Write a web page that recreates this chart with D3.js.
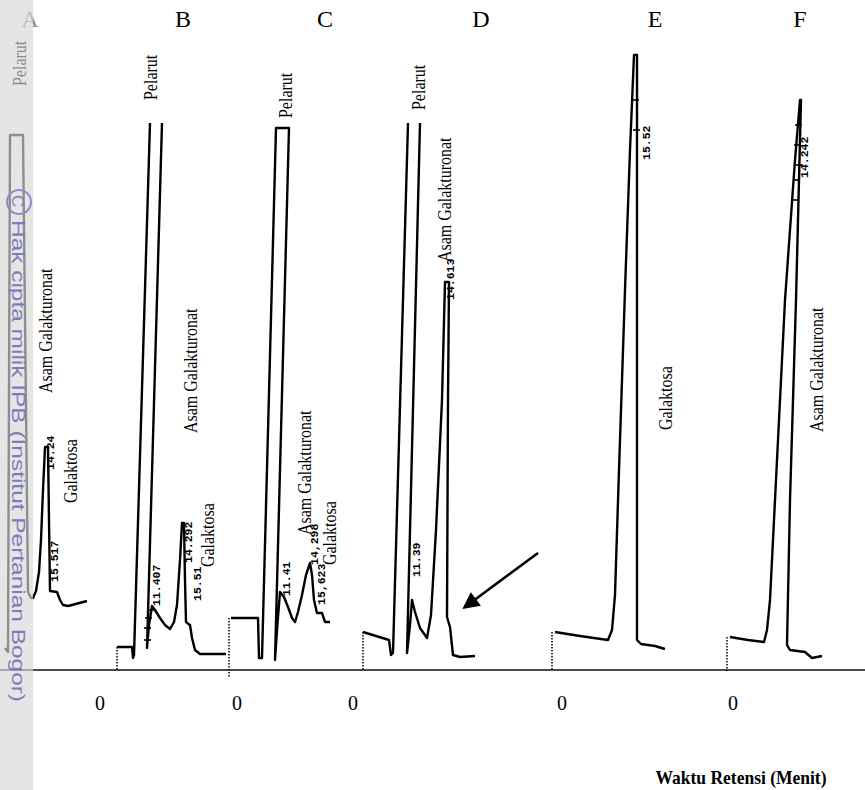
<!DOCTYPE html>
<html><head><meta charset="utf-8">
<script src="https://cdn.jsdelivr.net/npm/d3@7"></script>
<style>html,body{margin:0;padding:0;background:#fff;} svg{display:block}</style>
</head><body><svg id="c" width="865" height="790"></svg>
<script>
// ---------------- DATA (retention time in min, detector signal in mV) ----------------
const panelIds = ["A", "B", "C", "D", "E", "F"];

// null = pen lifted (peak off scale)
const traceA = [[0,22],[0.3,18],[0.5,535],[1.8,535],[2.3,78],[2.6,72],[2.8,72],[3.1,79],[3.4,98],[3.6,130],[3.8,180],[4.0,223],[4.3,223],[4.4,150],[4.5,79],[5.2,78],[5.5,70],[5.8,65],[6.3,64],[8.2,69]];
const traceB = [[0,23],[1.5,23],[1.6,12],[1.7,15],[3.3,547],null,[4.5,547],[3.0,22],[3.2,45],[3.5,64],[3.8,60],[4.3,52],[4.8,45],[5.3,41],[5.7,48],[6.0,65],[6.3,110],[6.5,147],[6.7,147],[6.8,90],[6.9,48],[7.3,45],[7.5,32],[7.8,20],[8.3,16],[10.9,16]];
const traceC = [[0.2,52],[2.9,52],[3.0,12],[3.3,12],[4.7,542],[6.0,542],[4.6,10],[4.8,40],[5.1,78],[5.5,73],[5.9,63],[6.3,52],[6.6,48],[6.9,58],[7.3,75],[7.7,95],[8.1,107],[8.3,95],[8.5,70],[8.8,57],[9.3,57],[9.6,48],[10.1,48]];
const traceD = [[0,38],[1.3,34],[2.6,30],[2.8,15],[3.0,17],[4.5,547],null,[5.7,547],[4.4,17],[4.7,45],[4.9,70],[5.2,58],[5.7,42],[6.4,32],[6.8,55],[7.3,140],[7.9,270],[8.2,388],[8.6,388],[8.5,270],[8.4,53],[8.7,43],[9.0,15],[9.7,13],[11.2,14]];
const traceE = [[0.3,38],[2.8,34],[5.6,30],[6.0,40],[6.3,75],[6.7,200],[7.3,380],[7.8,520],[8.2,615],[8.5,615],[8.5,30],[8.9,26],[10.3,24],[11.3,21]];
const traceF = [[0.3,33],[2.1,30],[3.7,28],[4.0,40],[4.3,70],[4.8,170],[5.8,370],[6.8,510],[7.3,570],[7.4,570],[6.9,370],[6.3,170],[6.0,25],[6.3,20],[7.8,18],[8.5,12],[9.5,14]];
const traces = { A: traceA, B: traceB, C: traceC, D: traceD, E: traceE, F: traceF };

// integrator tick marks on peaks: [panel, t, mV]
const rtTicks = [
  ["B", 3.0, 30], ["B", 3.0, 42], ["B", 3.1, 52], ["B", 3.3, 60],
  ["E", 8.4, 540], ["E", 8.3, 570],
  ["F", 7.1, 545], ["F", 7.0, 525], ["F", 7.2, 505], ["F", 6.9, 490], ["F", 6.8, 470]
];

// compound names: [panel, t, mV, text]
const compoundLabels = [
  ["A", 4.7, 277, "Asam Galakturonat"], ["A", 7.2, 167, "Galaktosa"],
  ["B", 4.0, 570, "Pelarut"], ["B", 8.0, 237, "Asam Galakturonat"], ["B", 9.7, 103, "Galaktosa"],
  ["C", 6.3, 552, "Pelarut"], ["C", 8.2, 135, "Asam Galakturonat"], ["C", 10.7, 105, "Galaktosa"],
  ["D", 6.2, 560, "Pelarut"], ["D", 8.8, 408, "Asam Galakturonat"],
  ["E", 12.0, 240, "Galaktosa"],
  ["F", 9.6, 238, "Asam Galakturonat"]
];
// printed retention times: [panel, t, mV, text]
const rtLabels = [
  ["A", 4.9, 200, "14.24"], ["A", 5.3, 88, "15.517"],
  ["B", 4.3, 64, "11.407"], ["B", 7.5, 107, "14.292"], ["B", 8.4, 69, "15.51"],
  ["C", 6.1, 74, "11.41"], ["C", 8.9, 105, "14,298"], ["C", 9.6, 65, "15,623"],
  ["D", 5.7, 93, "11.39"], ["D", 9.1, 370, "14.613"],
  ["E", 9.8, 510, "15.52"],
  ["F", 8.1, 492, "14.242"]
];
const zeroTickLabels = ["0", "0", "0", "0", "0"];
const axisTitle = "Waktu Retensi (Menit)";
const watermark = "Hak cipta milik IPB (Institut Pertanian Bogor)";
// arrow in panel D: from [t, mV] to [t, mV]
const arrowD = [[17.5, 117], [10.2, 63]];

// ---------------- LAYOUT ----------------
const W = 865, H = 790, axisY = 670;
const layout = {
  A: { x0: 5,   letterX: 30 },
  B: { x0: 117, letterX: 183, zeroAt: -1.7, marker: true },
  C: { x0: 229, letterX: 325, zeroAt: 0.8, marker: true },
  D: { x0: 363, letterX: 481, zeroAt: -1.0, marker: true },
  E: { x0: 552, letterX: 655, zeroAt: 1.0, marker: true },
  F: { x0: 727, letterX: 800, zeroAt: 0.6, marker: true }
};
const y = d3.scaleLinear().domain([0, 620]).range([axisY, 50]);
const xs = {};
panelIds.forEach(p => { xs[p] = d3.scaleLinear().domain([0, 20]).range([layout[p].x0, layout[p].x0 + 200]); });

const svg = d3.select("#c");
svg.append("rect").attr("width", W).attr("height", H).attr("fill", "#fff");

// baseline axis
svg.append("line").attr("x1", 0).attr("x2", W).attr("y1", axisY).attr("y2", axisY)
  .attr("stroke", "#111").attr("stroke-width", 1.6);

// traces
panelIds.forEach(p => {
  const line = d3.line().defined(d => d !== null).x(d => xs[p](d[0])).y(d => y(d[1]));
  svg.append("path").datum(traces[p]).attr("d", line)
    .attr("fill", "none").attr("stroke", "#000").attr("stroke-width", 2.4)
    .attr("stroke-linejoin", "round");
  if (layout[p].marker) {
    const t0 = traces[p][0];
    svg.append("line").attr("x1", xs[p](0)).attr("x2", xs[p](0))
      .attr("y1", y(t0[1])).attr("y2", y(p === "C" ? -6 : 0) + 1)
      .attr("stroke", "#000").attr("stroke-width", 1.5).attr("stroke-dasharray", "1.5,1.5");
  }
});
rtTicks.forEach(([p, t, v]) => {
  svg.append("line").attr("x1", xs[p](t) - 3).attr("x2", xs[p](t) + 4)
    .attr("y1", y(v)).attr("y2", y(v)).attr("stroke", "#000").attr("stroke-width", 1.6);
});

// arrow
svg.append("defs").append("marker").attr("id", "ah").attr("viewBox", "0 0 10 10")
  .attr("refX", 8).attr("refY", 5).attr("markerWidth", 8).attr("markerHeight", 6.5)
  .attr("orient", "auto").attr("markerUnits", "strokeWidth")
  .append("path").attr("d", "M0,0 L10,5 L0,10 Z").attr("fill", "#000");
svg.append("line").attr("x1", xs.D(arrowD[0][0])).attr("y1", y(arrowD[0][1]))
  .attr("x2", xs.D(arrowD[1][0])).attr("y2", y(arrowD[1][1]))
  .attr("stroke", "#000").attr("stroke-width", 2.6).attr("marker-end", "url(#ah)");

// compound labels (rotated, condensed serif)
compoundLabels.forEach(([p, t, v, txt]) => {
  svg.append("text").attr("transform", `translate(${xs[p](t)},${y(v)}) rotate(-90) scale(0.84,1)`)
    .attr("font-family", "Liberation Serif, Times New Roman, serif").attr("font-size", 19)
    .attr("fill", "#000").text(txt);
});
rtLabels.forEach(([p, t, v, txt]) => {
  svg.append("text").attr("transform", `translate(${xs[p](t)},${y(v)}) rotate(-90)`)
    .attr("font-family", "Liberation Mono, DejaVu Sans Mono, monospace").attr("font-size", 11.5)
    .attr("font-weight", "bold").attr("fill", "#000").text(txt);
});

// panel letters
panelIds.forEach(p => {
  svg.append("text").attr("x", layout[p].letterX).attr("y", 27).attr("text-anchor", "middle")
    .attr("font-family", "Liberation Serif, Times New Roman, serif").attr("font-size", 24)
    .attr("fill", p === "A" ? "#8c8c8c" : "#000").text(p);
});

// zero tick labels
panelIds.filter(p => layout[p].zeroAt !== undefined).forEach((p, i) => {
  svg.append("text").attr("x", xs[p](layout[p].zeroAt)).attr("y", 710).attr("text-anchor", "middle")
    .attr("font-family", "Liberation Serif, Times New Roman, serif").attr("font-size", 20)
    .attr("fill", "#000").text(zeroTickLabels[i]);
});

// axis title
svg.append("text").attr("x", 741).attr("y", 784).attr("text-anchor", "middle")
  .attr("font-family", "Liberation Serif, Times New Roman, serif").attr("font-size", 19.5)
  .attr("textLength", 171).attr("lengthAdjust", "spacingAndGlyphs")
  .attr("font-weight", "bold").attr("fill", "#000").text(axisTitle);

// gray scan band with watermark
svg.append("rect").attr("x", 0).attr("y", 0).attr("width", 33).attr("height", H)
  .attr("fill", "#d8d8d8").attr("opacity", 0.66);
svg.append("text").attr("transform", `translate(26,86) rotate(-90) scale(0.84,1)`)
  .attr("font-family", "Liberation Serif, serif").attr("font-size", 19).attr("fill", "#8c8c8c").text("Pelarut");
svg.append("circle").attr("cx", 19).attr("cy", 202).attr("r", 12)
  .attr("fill", "none").attr("stroke", "#8c8cc8").attr("stroke-width", 2);
svg.append("text").attr("transform", "translate(12,195) rotate(90)")
  .attr("font-family", "Liberation Sans, Arial, sans-serif").attr("font-size", 17)
  .attr("fill", "#8282c0").text("C");
svg.append("text").attr("transform", "translate(12,220) rotate(90)")
  .attr("font-family", "Liberation Sans, Arial, sans-serif").attr("font-size", 19)
  .attr("textLength", 482).attr("lengthAdjust", "spacingAndGlyphs")
  .attr("fill", "#7c7cbc").text(watermark);
</script></body></html>
